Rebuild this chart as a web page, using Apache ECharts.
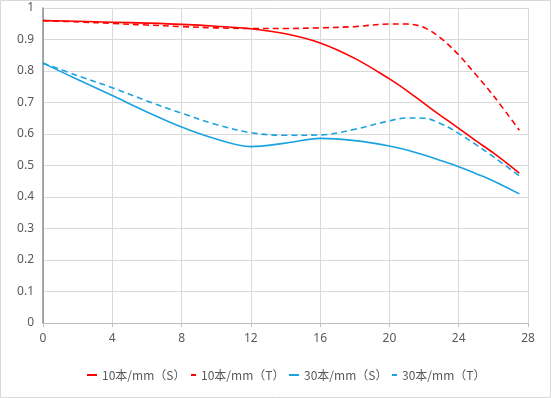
<!DOCTYPE html>
<html>
<head>
<meta charset="utf-8">
<script src="https://cdn.jsdelivr.net/npm/echarts@6/dist/echarts.min.js"></script>
<style>
  html, body { margin: 0; padding: 0; background: #fff; }
  #chart { width: 551px; height: 398px; }
</style>
</head>
<body>
<div id="chart"></div>
<script>
// image height (mm) on x, MTF on y
var xPos      = [0, 2, 4, 6, 8, 10, 12, 14, 16, 18, 20, 21, 22, 23, 24, 25, 26, 27.5];
var s10Sag    = [0.960, 0.958, 0.955, 0.952, 0.948, 0.942, 0.934, 0.918, 0.889, 0.840, 0.775, 0.738, 0.697, 0.657, 0.618, 0.578, 0.540, 0.476];
var s10Tan    = [0.960, 0.956, 0.951, 0.946, 0.941, 0.937, 0.935, 0.935, 0.937, 0.941, 0.949, 0.949, 0.938, 0.903, 0.851, 0.788, 0.722, 0.612];
var s30Sag    = [0.825, 0.773, 0.722, 0.670, 0.622, 0.584, 0.560, 0.571, 0.586, 0.579, 0.562, 0.549, 0.533, 0.515, 0.496, 0.474, 0.451, 0.410];
var s30Tan    = [0.825, 0.785, 0.747, 0.705, 0.666, 0.630, 0.604, 0.596, 0.597, 0.615, 0.642, 0.651, 0.650, 0.632, 0.602, 0.566, 0.528, 0.467];
var legendNames = ['10本/mm（S）', '10本/mm（T）', '30本/mm（S）', '30本/mm（T）'];

var RED = '#ff0000';
var BLUE = '#1aa3e0';

function pairs(ys) {
  var out = [];
  for (var i = 0; i < xPos.length; i++) out.push([xPos[i], ys[i]]);
  return out;
}

function makeSeries(name, ys, color, dashed) {
  return {
    name: name,
    type: 'line',
    smooth: 0.35,
    symbol: 'none',
    data: pairs(ys),
    itemStyle: { color: color },
    lineStyle: { color: color, width: 1.6, type: dashed ? [6, 4] : 'solid' }
  };
}

function makeLegend(name, left, width) {
  return {
    data: [{ name: name, icon: 'rect' }],
    left: left,
    top: 364,
    itemWidth: width,
    itemHeight: 2,
    itemGap: 0,
    textStyle: { fontFamily: 'Noto Sans CJK SC', fontSize: 12, color: '#595959', padding: [0, 0, 0, 0] }
  };
}

var myChart = echarts.init(document.getElementById('chart'));
myChart.setOption({
  animation: false,
  backgroundColor: '#fff',
  graphic: [{
    type: 'rect',
    shape: { x: 0.5, y: 0.5, width: 550, height: 397 },
    style: { fill: 'none', stroke: '#d9d9d9', lineWidth: 1 },
    silent: true
  }],
  legend: [
    makeLegend(legendNames[0], 82, 10),
    makeLegend(legendNames[1], 186, 5),
    makeLegend(legendNames[2], 284, 10),
    makeLegend(legendNames[3], 387, 5)
  ],
  grid: { left: 43, right: 23, top: 8, bottom: 75 },
  xAxis: {
    type: 'value',
    min: 0,
    max: 28,
    interval: 4,
    axisLine: { lineStyle: { color: '#bfbfbf', width: 1 } },
    axisTick: { show: true, length: 4, lineStyle: { color: '#bfbfbf' } },
    axisLabel: { color: '#595959', fontSize: 12, margin: 10, fontFamily: 'Noto Sans' },
    splitLine: { show: true, lineStyle: { color: '#d9d9d9', width: 1 } }
  },
  yAxis: {
    type: 'value',
    min: 0,
    max: 1,
    interval: 0.1,
    axisLine: { show: true, lineStyle: { color: '#8c8c8c', width: 1.5 } },
    axisTick: { show: false },
    axisLabel: { color: '#595959', fontSize: 12, margin: 9, fontFamily: 'Noto Sans' },
    splitLine: { show: true, lineStyle: { color: '#d9d9d9', width: 1 } }
  },
  series: [
    makeSeries(legendNames[0], s10Sag, RED, false),
    makeSeries(legendNames[1], s10Tan, RED, true),
    makeSeries(legendNames[2], s30Sag, BLUE, false),
    makeSeries(legendNames[3], s30Tan, BLUE, true)
  ]
});
</script>
</body>
</html>
